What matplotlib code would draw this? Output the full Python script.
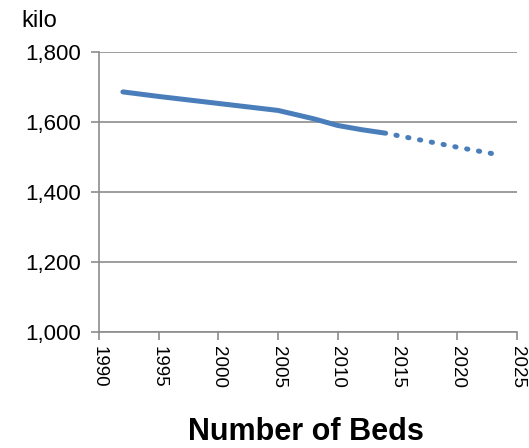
import matplotlib
matplotlib.use("Agg")
from matplotlib import pyplot as plt

# actual values (thousand beds)
years = [1992, 1995, 2000, 2005, 2008, 2010, 2012, 2014]
beds = [1686, 1673, 1653, 1633, 1609, 1590, 1578, 1568]

# projection
proj_years = [2014, 2017, 2020, 2023.2]
proj_beds = [1568, 1548, 1528, 1508]

yticks = [1000, 1200, 1400, 1600, 1800]
xticks = [1990, 1995, 2000, 2005, 2010, 2015, 2020, 2025]

plt.rcParams['font.family'] = ['Liberation Sans', 'DejaVu Sans']

fig = plt.figure(figsize=(5.29, 4.48), dpi=100)
ax = fig.add_axes([99/529, 1-332/448, (517-99)/529, (332-52)/448])

col = '#4a7ebb'
lw = 3.6
ax.plot(years, beds, color=col, lw=lw, solid_capstyle='round', solid_joinstyle='round', zorder=3)
# start in the gap so the first dot sits away from the solid line
ax.plot(proj_years, proj_beds, color=col, lw=lw, linestyle=(0.3, (0.25, 2.15)),
        dash_capstyle='round', zorder=3)

ax.set_xlim(1990, 2025)
ax.set_ylim(1000, 1800)
ax.set_xticks(xticks)
ax.set_yticks(yticks)
ax.set_yticklabels(['{:,}'.format(v) for v in yticks], fontsize=16)
ax.set_xticklabels([str(v) for v in xticks], rotation=270, fontsize=13.5)
ax.grid(axis='y', color='#8c8c8c', lw=1.2)
ax.set_axisbelow(True)
for s in ['top', 'right']:
    ax.spines[s].set_visible(False)
for s in ['left', 'bottom']:
    ax.spines[s].set_color('#8c8c8c')
    ax.spines[s].set_linewidth(1.2)
ax.tick_params(axis='both', colors='#8c8c8c', labelcolor='black',
               length=6, width=1.2)
ax.tick_params(axis='y', pad=7)
ax.tick_params(axis='x', pad=4)

fig.text(21/529, 1-21/448, 'kilo', fontsize=17, va='center', ha='left')
fig.text(306/529, 1-432/448, 'Number of Beds', fontsize=22, fontweight='bold',
         ha='center', va='center')

fig.savefig('out.png', dpi=100)
